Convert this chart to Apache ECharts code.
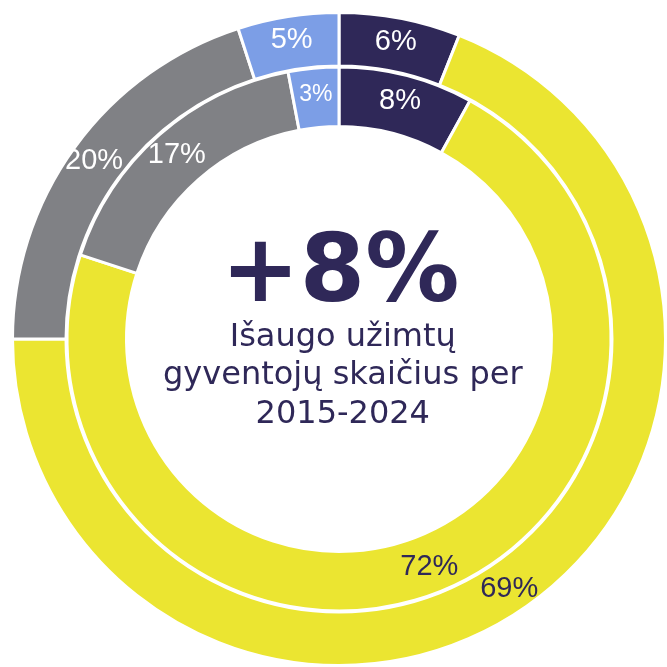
<!DOCTYPE html>
<html>
<head>
<meta charset="utf-8">
<script src="https://cdn.jsdelivr.net/npm/echarts@6/dist/echarts.min.js"></script>
<style>
  html, body { margin: 0; padding: 0; background: #fff; }
  #chart { width: 667px; height: 667px; }
</style>
</head>
<body>
<div id="chart"></div>
<script>
// Grupės (pagal spalvą), išorinis ir vidinis žiedas
const categories = ['A', 'B', 'C', 'D']
const outerValues = [6, 69, 20, 5]
const innerValues = [8, 72, 17, 3]
const colors = ['#2f2858', '#ebe531', '#808185', '#7c9ee6']
const labelColors = ['#ffffff', '#2f2858', '#ffffff', '#ffffff']

const headline = '+8%'
const subtitle = 'Išaugo užimtų\ngyventojų skaičius per\n2015-2024'

const chart = echarts.init(document.getElementById('chart'))

const makeData = (values) => values.map((v, i) => ({
  name: categories[i],
  value: v,
  itemStyle: { color: colors[i] },
  label: {
    color: labelColors[i],
    fontSize: v <= 3 ? 23 : 29
  }
}))

const ringBase = {
  type: 'pie',
  center: [339, 339],
  startAngle: 90,
  clockwise: true,
  avoidLabelOverlap: false,
  animation: false,
  silent: true,
  itemStyle: { borderColor: '#ffffff', borderWidth: 3 },
  label: {
    show: true,
    position: 'inside',
    fontFamily: 'Liberation Sans, Arial, sans-serif',
    formatter: '{c}%'
  },
  labelLine: { show: false }
}

const option = {
  backgroundColor: '#ffffff',
  animation: false,
  series: [
    Object.assign({}, ringBase, {
      name: 'outer',
      radius: [273, 326.5],
      data: makeData(outerValues)
    }),
    Object.assign({}, ringBase, {
      name: 'inner',
      radius: [212.5, 272],
      data: makeData(innerValues)
    })
  ],
  graphic: [
    {
      type: 'text',
      left: 221,
      top: 230,
      style: {
        text: headline,
        fontFamily: 'DejaVu Sans, Verdana, sans-serif',
        fontWeight: 'bold',
        fontSize: 94,
        fill: '#2f2858',
        textAlign: 'center'
      }
    },
    {
      type: 'text',
      left: 163,
      top: 318,
      style: {
        text: subtitle,
        fontFamily: 'DejaVu Sans, Verdana, sans-serif',
        fontSize: 32,
        lineHeight: 38.5,
        fill: '#2f2858',
        textAlign: 'center'
      }
    }
  ]
}

chart.setOption(option)
</script>
</body>
</html>
